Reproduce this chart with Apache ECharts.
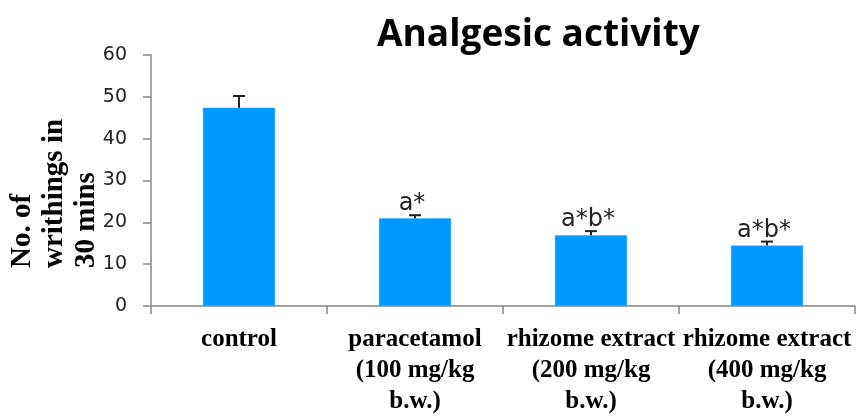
<!DOCTYPE html>
<html><head><meta charset="utf-8">
<script src="https://cdn.jsdelivr.net/npm/echarts@6/dist/echarts.min.js"></script>
<style>html,body{margin:0;padding:0;background:#fff}#c{width:857px;height:417px}</style>
</head><body><div id="c"></div>
<script>
const categories = ['control', 'paracetamol\n(100 mg/kg\nb.w.)', 'rhizome extract\n(200 mg/kg\nb.w.)', 'rhizome extract\n(400 mg/kg\nb.w.)'];
const means = [47.4, 21.0, 16.9, 14.45];
const errors = [2.8, 0.7, 1.0, 0.95];
const annotations = ['', 'a*', 'a*b*', 'a*b*'];
const titleText = 'Analgesic activity';
const yAxisTitle = 'No. of\nwrithings in\n30 mins';

const chart = echarts.init(document.getElementById('c'), null, {renderer: 'canvas'});
const errData = means.map((m, i) => [i, m, m + errors[i], annotations[i]]);
chart.setOption({
  animation: false,
  backgroundColor: '#fff',
  title: {text: titleText, left: 372, top: 12,
    textStyle: {fontFamily: 'Open Sans', fontWeight: 'bold', fontSize: 37, color: '#000'}},
  grid: {left: 151, right: 2, top: 55, bottom: 110},
  xAxis: {type: 'category', data: categories,
    axisLine: {lineStyle: {color: '#888', width: 1.5}},
    axisTick: {show: true, length: 8, alignWithLabel: false, lineStyle: {color: '#888', width: 1.5}},
    axisLabel: {interval: 0, margin: 18, lineHeight: 31, fontFamily: 'Liberation Serif', fontWeight: 'bold', fontSize: 25, color: '#000'}},
  yAxis: {type: 'value', min: 0, max: 60, interval: 10,
    axisLine: {show: true, lineStyle: {color: '#888', width: 1.5}},
    axisTick: {show: true, length: 8, lineStyle: {color: '#888', width: 1.5}},
    splitLine: {show: false},
    axisLabel: {margin: 24, fontFamily: 'DejaVu Sans', fontSize: 19, color: '#222'}},
  graphic: [{type: 'text', rotation: Math.PI / 2, x: 55, y: 268,
    style: {text: yAxisTitle, textAlign: 'left', textVerticalAlign: 'middle',
      font: 'bold 29px "Liberation Serif"', lineHeight: 32, fill: '#000'}}],
  series: [
    {type: 'bar', data: means, barWidth: '41%',
      itemStyle: {color: '#0099FF', borderColor: '#33AAFF', borderWidth: 0.5}},
    {type: 'custom', data: errData, z: 10,
      renderItem: function (params, api) {
        const x = api.value(0);
        const pLow = api.coord([x, api.value(1)]);
        const pHigh = api.coord([x, api.value(2)]);
        const cap = 6;
        const st = {stroke: '#222', lineWidth: 2};
        return {type: 'group', children: [
          {type: 'line', shape: {x1: pLow[0], y1: pLow[1], x2: pHigh[0], y2: pHigh[1]}, style: st},
          {type: 'line', shape: {x1: pHigh[0] - cap, y1: pHigh[1], x2: pHigh[0] + cap, y2: pHigh[1]}, style: st},
          {type: 'text', x: pHigh[0] - 3, y: pHigh[1] + 1,
            style: {text: api.value(3), textAlign: 'center', textVerticalAlign: 'bottom',
              font: '24px "DejaVu Sans"', fill: '#222'}}
        ]};
      }}
  ]
});
</script></body></html>
